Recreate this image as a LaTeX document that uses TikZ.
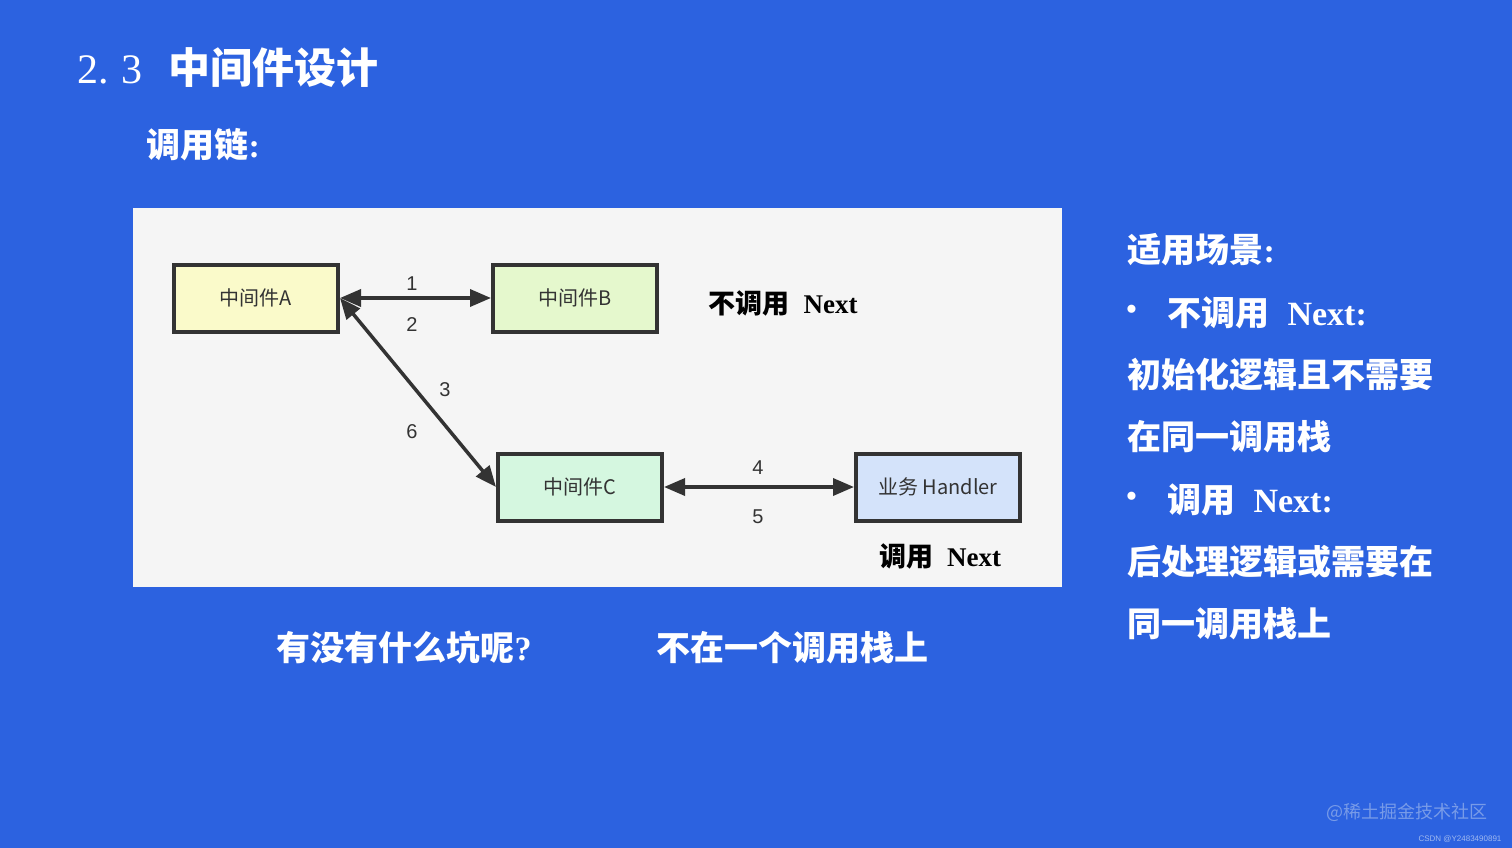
\documentclass[tikz,border=0pt]{standalone}
\usepackage{fontspec}
\setmainfont{Liberation Serif}
\setsansfont{Liberation Sans}
\newfontfamily\cjk{Noto Sans CJK SC}
\usetikzlibrary{arrows.meta}

\definecolor{slideblue}{RGB}{44,98,224}
\definecolor{panelgray}{RGB}{245,245,245}
\definecolor{linegray}{RGB}{51,51,51}
\definecolor{fillA}{RGB}{250,250,202}
\definecolor{fillB}{RGB}{229,248,205}
\definecolor{fillC}{RGB}{213,247,224}
\definecolor{fillH}{RGB}{212,227,250}
\definecolor{markblue}{RGB}{120,155,232}

\begin{document}
\begin{tikzpicture}[x=1pt,y=-1pt,>={Triangle[length=21pt,width=17pt]},
	mw/.style={draw=linegray,line width=4pt,minimum width=164pt,minimum height=67pt,
		font=\cjk\fontsize{20}{24}\selectfont,text=linegray},
	num/.style={font=\sffamily\fontsize{20}{24}\selectfont,text=linegray},
	call/.style={font=\fontsize{27}{32}\selectfont\bfseries,text=black},
	say/.style={anchor=west,text=white,font=\fontsize{34}{40}\selectfont}]
	\useasboundingbox (0,0) rectangle (1512,848);
	\fill [slideblue] (0,0) rectangle (1512,848);
	\fill [panelgray] (133,208) rectangle (1062,587);
	
	\node [anchor=west,text=white,font=\fontsize{42}{50}\selectfont] (title) at (74,68) {2.\hspace{12pt}3\hspace{26pt}{\cjk\bfseries 中间件设计}};
	\node [say] (chain) at (143,145) {{\cjk\bfseries 调用链}\textbf{:}};
	
	% call chain
	\node [mw,fill=fillA] (a) at (256,298) {中间件A};
	\node [mw,fill=fillB] (b) at (575,298) {中间件B};
	\node [mw,fill=fillC] (c) at (580,487) {中间件C};
	\node [mw,fill=fillH] (h) at (938,487) {业务 Handler};
	
	\draw [<->,line width=3.5pt,linegray] (a.east) -- (b.west);
	\draw [<->,line width=3.5pt,linegray] (a.east) -- (c.west);
	\draw [<->,line width=3.5pt,linegray] (c.east) -- (h.west);
	
	\node [num] (n1) at (412,284) {1};
	\node [num] (n2) at (412,325) {2};
	\node [num] (n3) at (445,390) {3};
	\node [num] (n6) at (412,432) {6};
	\node [num] (n4) at (758,468) {4};
	\node [num] (n5) at (758,517) {5};
	
	\node [call] (skip) at (783,303) {{\cjk 不调用}\hspace{14pt}Next};
	\node [call] (next) at (940,556) {{\cjk 调用}\hspace{14pt}Next};
	
	% right column
	\node [say] (use) at (1124,250) {{\cjk\bfseries 适用场景}\textbf{:}};
	\node [say] (b1) at (1122,313) {\textbullet};
	\node [say] (p1) at (1164,313) {{\cjk\bfseries 不调用}\hspace{18pt}\textbf{Next:}};
	\node [say] (p1a) at (1124,375) {\cjk\bfseries 初始化逻辑且不需要};
	\node [say] (p1b) at (1124,437) {\cjk\bfseries 在同一调用栈};
	\node [say] (b2) at (1122,500) {\textbullet};
	\node [say] (p2) at (1164,500) {{\cjk\bfseries 调用}\hspace{18pt}\textbf{Next:}};
	\node [say] (p2a) at (1124,562) {\cjk\bfseries 后处理逻辑或需要在};
	\node [say] (p2b) at (1124,624) {\cjk\bfseries 同一调用栈上};
	
	% bottom
	\node [say] (pit) at (273,648) {{\cjk\bfseries 有没有什么坑呢}\textbf{?}};
	\node [say] (stack) at (653,648) {\cjk\bfseries 不在一个调用栈上};
	
	\node [text=markblue,font=\cjk\fontsize{18}{22}\selectfont] (site) at (1407,812) {@稀土掘金技术社区};
	\node [text=markblue!70!white,font=\sffamily\fontsize{8}{10}\selectfont] (csdn) at (1460,839) {CSDN @Y2483490891};
\end{tikzpicture}
\end{document}
